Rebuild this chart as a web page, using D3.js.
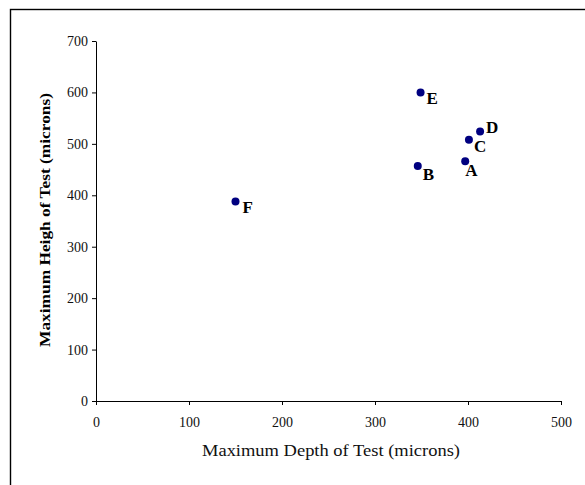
<!DOCTYPE html>
<html>
<head>
    <title>test depth vs height</title>
    <script src="https://cdn.jsdelivr.net/npm/d3@7"></script>
    <style>
        body { margin: 0; background: #fff; }
        svg { display: block; }
        .domain, .tick line { stroke: #000; }
    </style>
</head>
<body>
    <svg id="chart" width="585" height="485"></svg>

    <script>

// values
var names  = ['A', 'B', 'C', 'D', 'E', 'F']
var depth  = [397, 346, 401, 413, 349, 150]
var height = [466, 457, 508, 524, 600, 388]

var xTicks = [0, 100, 200, 300, 400, 500]
var yTicks = [0, 100, 200, 300, 400, 500, 600, 700]

var xTitle = 'Maximum Depth of Test (microns)'
var yTitle = 'Maximum Heigh of Test (microns)'

        var svg = d3.select('#chart')
        var serif = '"Liberation Serif", "Times New Roman", serif'

        // outer frame (runs off the right / bottom edge like the original)
        svg.append('rect')
            .attr('x', 10.5).attr('y', 9.5)
            .attr('width', 620).attr('height', 520)
            .attr('fill', 'none')
            .attr('stroke', '#000')
            .attr('stroke-width', 1.4)

        var x = d3.scaleLinear().domain([0, 500]).range([96, 561])
        var y = d3.scaleLinear().domain([0, 700]).range([401, 41])

        var xAxis = svg.append('g')
            .attr('transform', 'translate(0,' + y(0) + ')')
            .call(d3.axisBottom(x).tickValues(xTicks).tickSize(4).tickPadding(12).tickSizeOuter(4))

        var yAxis = svg.append('g')
            .attr('transform', 'translate(' + x(0) + ',0)')
            .call(d3.axisLeft(y).tickValues(yTicks).tickSize(4).tickPadding(4).tickSizeOuter(0))

        svg.selectAll('.domain').attr('stroke-width', 1)
        xAxis.attr('font-family', serif).attr('font-size', 14)
        yAxis.attr('font-family', serif).attr('font-size', 14)
        svg.selectAll('.tick text').attr('fill', '#111')

        svg.append('text')
            .attr('x', 331).attr('y', 456)
            .attr('text-anchor', 'middle')
            .attr('font-family', serif)
            .attr('font-size', 16)
            .attr('textLength', 258)
            .attr('lengthAdjust', 'spacingAndGlyphs')
            .attr('fill', '#111')
            .text(xTitle)

        svg.append('text')
            .attr('transform', 'translate(50,220) rotate(-90)')
            .attr('text-anchor', 'middle')
            .attr('font-family', serif)
            .attr('font-size', 14)
            .attr('font-weight', 'bold')
            .attr('textLength', 254)
            .attr('lengthAdjust', 'spacingAndGlyphs')
            .attr('fill', '#000')
            .text(yTitle)

        var points = names.map(function (n, i) { return { name: n, x: depth[i], y: height[i] } })

        // where each letter sits relative to its dot
        var labelShift = { A: [0, 15], B: [5, 14], C: [5, 12], D: [6, 1], E: [6, 12], F: [7, 12] }

        svg.append('g')
            .selectAll('circle')
            .data(points)
            .enter().append('circle')
              .attr('cx', function (d) { return x(d.x) })
              .attr('cy', function (d) { return y(d.y) })
              .attr('r', 4)
              .attr('fill', '#000080')

        svg.append('g')
            .selectAll('text')
            .data(points)
            .enter().append('text')
              .attr('x', function (d) { return x(d.x) + labelShift[d.name][0] })
              .attr('y', function (d) { return y(d.y) + labelShift[d.name][1] })
              .attr('font-family', serif)
              .attr('font-size', 17)
              .attr('font-weight', 'bold')
              .attr('fill', '#000')
              .text(function (d) { return d.name })

    </script>
</body>
</html>
